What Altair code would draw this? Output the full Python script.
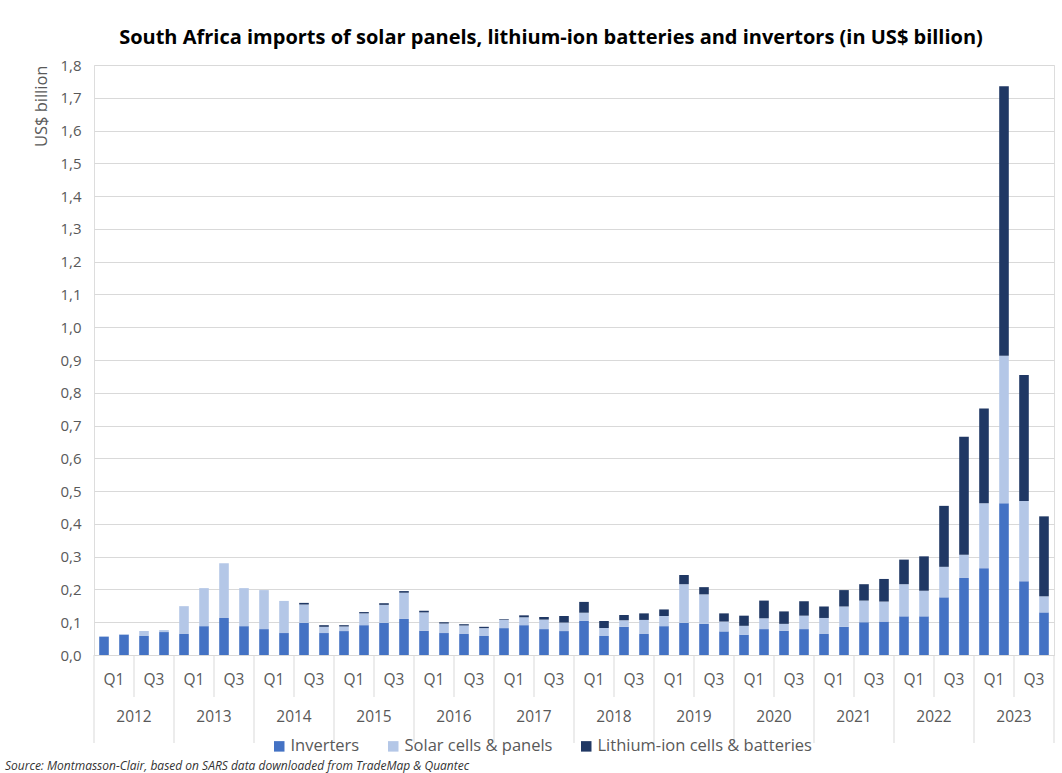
import altair as alt
import pandas as pd

years = [2012, 2013, 2014, 2015, 2016, 2017, 2018, 2019, 2020, 2021, 2022, 2023]
quarters = ["Q1", "Q2", "Q3", "Q4"]

inverters = [0.055, 0.062, 0.058, 0.070,
             0.064, 0.088, 0.113, 0.088,
             0.079, 0.067, 0.098, 0.067,
             0.073, 0.091, 0.098, 0.110,
             0.074, 0.067, 0.064, 0.058,
             0.082, 0.091, 0.079, 0.073,
             0.104, 0.058, 0.086, 0.064,
             0.088, 0.098, 0.095, 0.072,
             0.062, 0.079, 0.074, 0.079,
             0.064, 0.086, 0.100, 0.102,
             0.118, 0.118, 0.176, 0.235,
             0.265, 0.463, 0.225, 0.130]
solar = [0.003, 0.002, 0.015, 0.006,
         0.085, 0.116, 0.167, 0.116,
         0.119, 0.098, 0.056, 0.019,
         0.014, 0.036, 0.055, 0.080,
         0.056, 0.029, 0.026, 0.024,
         0.025, 0.024, 0.029, 0.026,
         0.025, 0.024, 0.020, 0.043,
         0.031, 0.118, 0.090, 0.030,
         0.027, 0.033, 0.021, 0.041,
         0.049, 0.062, 0.066, 0.061,
         0.098, 0.078, 0.093, 0.071,
         0.198, 0.450, 0.245, 0.049]
lithium = [0.0, 0.0, 0.0, 0.0,
           0.0, 0.0, 0.0, 0.0,
           0.0, 0.0, 0.005, 0.005,
           0.004, 0.004, 0.005, 0.005,
           0.005, 0.004, 0.004, 0.004,
           0.002, 0.006, 0.008, 0.020,
           0.033, 0.022, 0.016, 0.020,
           0.020, 0.028, 0.022, 0.025,
           0.031, 0.054, 0.038, 0.044,
           0.035, 0.050, 0.050, 0.069,
           0.075, 0.105, 0.186, 0.360,
           0.289, 0.822, 0.384, 0.244]

series_names = ["Inverters", "Solar cells & panels", "Lithium-ion cells & batteries"]
series_colors = ["#4472C4", "#B4C7E7", "#203864"]
y_ticks = [0.0, 0.1, 0.2, 0.3, 0.4, 0.5, 0.6, 0.7, 0.8, 0.9, 1.0,
           1.1, 1.2, 1.3, 1.4, 1.5, 1.6, 1.7, 1.8]

title_text = "South Africa imports of solar panels, lithium-ion batteries and invertors (in US$ billion)"
source_text = "Source: Montmasson-Clair, based on SARS data downloaded from TradeMap & Quantec"

FONT = "Open Sans"
GREY = "#595959"
LINE = "#d9d9d9"
W, H = 960, 590

keys = [f"{y}|{q}" for y in years for q in quarters]
rows = []
for i, k in enumerate(keys):
    for j, (name, vals) in enumerate(zip(series_names, [inverters, solar, lithium])):
        rows.append({"key": k, "series": name, "value": vals[i], "order": j})
df = pd.DataFrame(rows)

label_keys = [f"{y}|{q}" for y in years for q in ["Q1", "Q3"]]
df_long = pd.DataFrame([{"key": f"{y}|Q1"} for y in years])
df_short = pd.DataFrame([{"key": f"{y}|Q3"} for y in years])
df_end = pd.DataFrame([{"key": keys[-1]}])
df_years = pd.DataFrame([{"key": f"{y}|Q3", "year": str(y)} for y in years])

xscale = alt.Scale(domain=keys, paddingInner=0, paddingOuter=0)
xaxis = alt.Axis(values=label_keys, labelExpr="split(datum.value,'|')[1]",
                 ticks=False, domainColor=LINE, labelAngle=0,
                 labelFontSize=15.5, labelColor=GREY, labelFont=FONT,
                 labelPadding=17, labelOffset=10, title=None, grid=False)

bars = alt.Chart(df).mark_bar(width={"band": 0.48}).encode(
    x=alt.X("key:N", scale=xscale, sort=keys, axis=xaxis),
    y=alt.Y("value:Q", stack="zero",
            scale=alt.Scale(domain=[0, 1.8], nice=False),
            axis=alt.Axis(values=y_ticks, labelExpr="replace(format(datum.value,'.1f'),'.',',')",
                          labelFontSize=15, labelColor=GREY, labelFont=FONT,
                          gridColor=LINE, domain=False, ticks=False, labelPadding=13,
                          title="US$ billion", titleFont=FONT, titleFontSize=16.5,
                          titleFontWeight="normal", titleColor=GREY, titleAnchor="end",
                          titlePadding=10)),
    color=alt.Color("series:N", scale=alt.Scale(domain=series_names, range=series_colors),
                    legend=alt.Legend(orient="none", legendX=177, legendY=673, direction="horizontal",
                                      title=None, symbolType="square", symbolSize=110,
                                      symbolStrokeWidth=0, labelFontSize=16.5, labelColor=GREY,
                                      labelFont=FONT, columnPadding=25, labelOffset=3,
                                      labelLimit=0)),
    order=alt.Order("order:Q", sort="ascending"),
)

sep_long = alt.Chart(df_long).mark_rule(color=LINE).encode(
    x=alt.X("key:N", bandPosition=0, axis=xaxis, sort=keys),
    y=alt.value(H), y2=alt.value(H + 88))
sep_short = alt.Chart(df_short).mark_rule(color=LINE).encode(
    x=alt.X("key:N", bandPosition=0, axis=xaxis, sort=keys),
    y=alt.value(H), y2=alt.value(H + 42))
sep_end = alt.Chart(df_end).mark_rule(color=LINE).encode(
    x=alt.X("key:N", bandPosition=1, axis=xaxis, sort=keys),
    y=alt.value(H), y2=alt.value(H + 88))

year_text = alt.Chart(df_years).mark_text(fontSize=15.5, color=GREY, font=FONT, baseline="middle").encode(
    x=alt.X("key:N", bandPosition=0, axis=xaxis, sort=keys),
    y=alt.value(H + 62),
    text="year:N",
)

source = alt.Chart(pd.DataFrame([{"t": source_text}])).mark_text(
    align="left", baseline="middle", fontStyle="italic", fontSize=12, color="#333333", font=FONT
).encode(x=alt.value(-89), y=alt.value(H + 111), text="t:N")

chart = alt.layer(bars, sep_long, sep_short, sep_end, year_text, source).properties(
    width=W, height=H,
    title=alt.TitleParams(title_text, fontSize=20, font=FONT, fontWeight="bold", color="black",
                          anchor="middle", dx=-23, offset=10),
    autosize=alt.AutoSizeParams(type="none"),
    padding={"left": 94, "top": 65, "right": 8, "bottom": 118},
).configure_view(stroke=None).configure(background="white")

chart.save("out.html", embed_options={"renderer": "svg", "actions": False})
